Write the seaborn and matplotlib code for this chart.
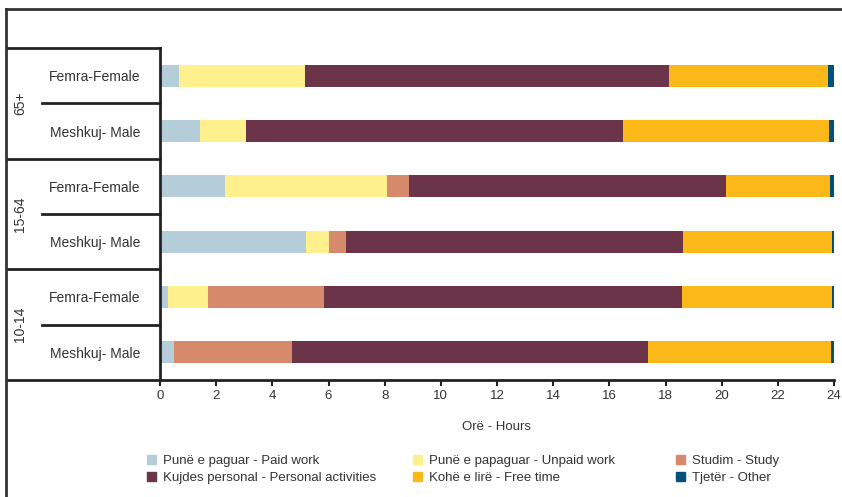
import pandas as pd
import numpy as np
import matplotlib.pyplot as plt
import matplotlib.transforms as mtransforms
from matplotlib.lines import Line2D
from matplotlib.patches import Patch
import seaborn as sns

# rows top to bottom
rows = ["65+ F", "65+ M", "15-64 F", "15-64 M", "10-14 F", "10-14 M"]
row_labels = ["Femra-Female", "Meshkuj- Male"] * 3
groups = ["65+", "15-64", "10-14"]

categories = ["Punë e paguar - Paid work", "Punë e papaguar - Unpaid work",
              "Studim - Study", "Kujdes personal - Personal activities",
              "Kohë e lirë - Free time", "Tjetër - Other"]
colors = ["#b4cdd9", "#fef08c", "#d6896b", "#6b3449", "#fbb818", "#00527c"]

paid = [0.68, 1.42, 2.31, 5.20, 0.28, 0.50]
unpaid = [4.48, 1.64, 5.77, 0.82, 1.43, 0.00]
study = [0.00, 0.00, 0.79, 0.60, 4.13, 4.20]
personal = [12.97, 13.43, 11.29, 12.01, 12.75, 12.68]
free = [5.66, 7.34, 3.70, 5.30, 5.34, 6.52]
other = [0.21, 0.17, 0.14, 0.07, 0.07, 0.10]

df = pd.DataFrame({"row": rows, categories[0]: paid, categories[1]: unpaid,
                   categories[2]: study, categories[3]: personal,
                   categories[4]: free, categories[5]: other})
cum = df[categories].cumsum(axis=1)

plt.rcParams['font.family'] = ['Liberation Sans', 'DejaVu Sans']
txt = "#333333"

fig = plt.figure(figsize=(8.42, 4.97), dpi=100)
ax = fig.add_axes([160 / 842, 1 - 380 / 497, 674 / 842, 332 / 497])

# stacked bars: draw cumulative totals from the last segment back to the first
for cat, col in reversed(list(zip(categories, colors))):
    sns.barplot(x=cum[cat], y=df["row"], orient="h", color=col, width=0.4,
                saturation=1, linewidth=0, ax=ax)

ax.set_xlim(0, 24)
ax.set_ylim(5.5, -0.5)
ax.set_xticks(range(0, 25, 2))
ax.set_yticks(range(len(rows)))
ax.set_yticklabels(row_labels, fontsize=10, color=txt)
ax.tick_params(axis="y", length=0, pad=14)
ax.tick_params(axis="x", length=4, width=1.5, color="#222222", pad=3,
               labelsize=9.5, labelcolor=txt)
ax.set_xlabel("Orë - Hours", fontsize=9.5, color=txt, labelpad=14)
ax.set_ylabel("")
for s in ["top", "right"]:
    ax.spines[s].set_visible(False)
for s in ["left", "bottom"]:
    ax.spines[s].set_color("#222222")
    ax.spines[s].set_linewidth(2)

# left-hand table structure
trans = mtransforms.blended_transform_factory(fig.transFigure, ax.transData)
x0, x1, xs = 7 / 842, 160 / 842, 42 / 842
for yb in [-0.5, 1.5, 3.5, 5.5]:
    fig.add_artist(Line2D([x0, x1], [yb, yb], transform=trans,
                          color="#222222", lw=2))
for yb in [0.5, 2.5, 4.5]:
    fig.add_artist(Line2D([xs, x1], [yb, yb], transform=trans,
                          color="#222222", lw=2))
for i, g in enumerate(groups):
    ax.text(20 / 842, 2 * i + 0.5, g, transform=trans, rotation=90,
            ha="center", va="center", fontsize=10, color=txt)

# outer frame (top and left)
fig.add_artist(Line2D([6 / 842, 1], [1 - 9 / 497, 1 - 9 / 497],
                      transform=fig.transFigure, color="#333333", lw=2))
fig.add_artist(Line2D([6 / 842, 6 / 842], [0, 1 - 9 / 497],
                      transform=fig.transFigure, color="#333333", lw=2))

# legend in three columns
legend_x = [147 / 842, 413 / 842, 676 / 842]
for j in range(3):
    handles = [Patch(color=colors[k]) for k in (j, j + 3)]
    labels = [categories[k] for k in (j, j + 3)]
    fig.legend(handles, labels, loc="upper left",
               bbox_to_anchor=(legend_x[j], 1 - 455 / 497), frameon=False,
               fontsize=9.5, handlelength=0.7, handleheight=0.7,
               handletextpad=0.5, labelspacing=0.35, borderaxespad=0,
               borderpad=0, labelcolor=txt)

fig.savefig("out.png", dpi=100)
plt.close()
